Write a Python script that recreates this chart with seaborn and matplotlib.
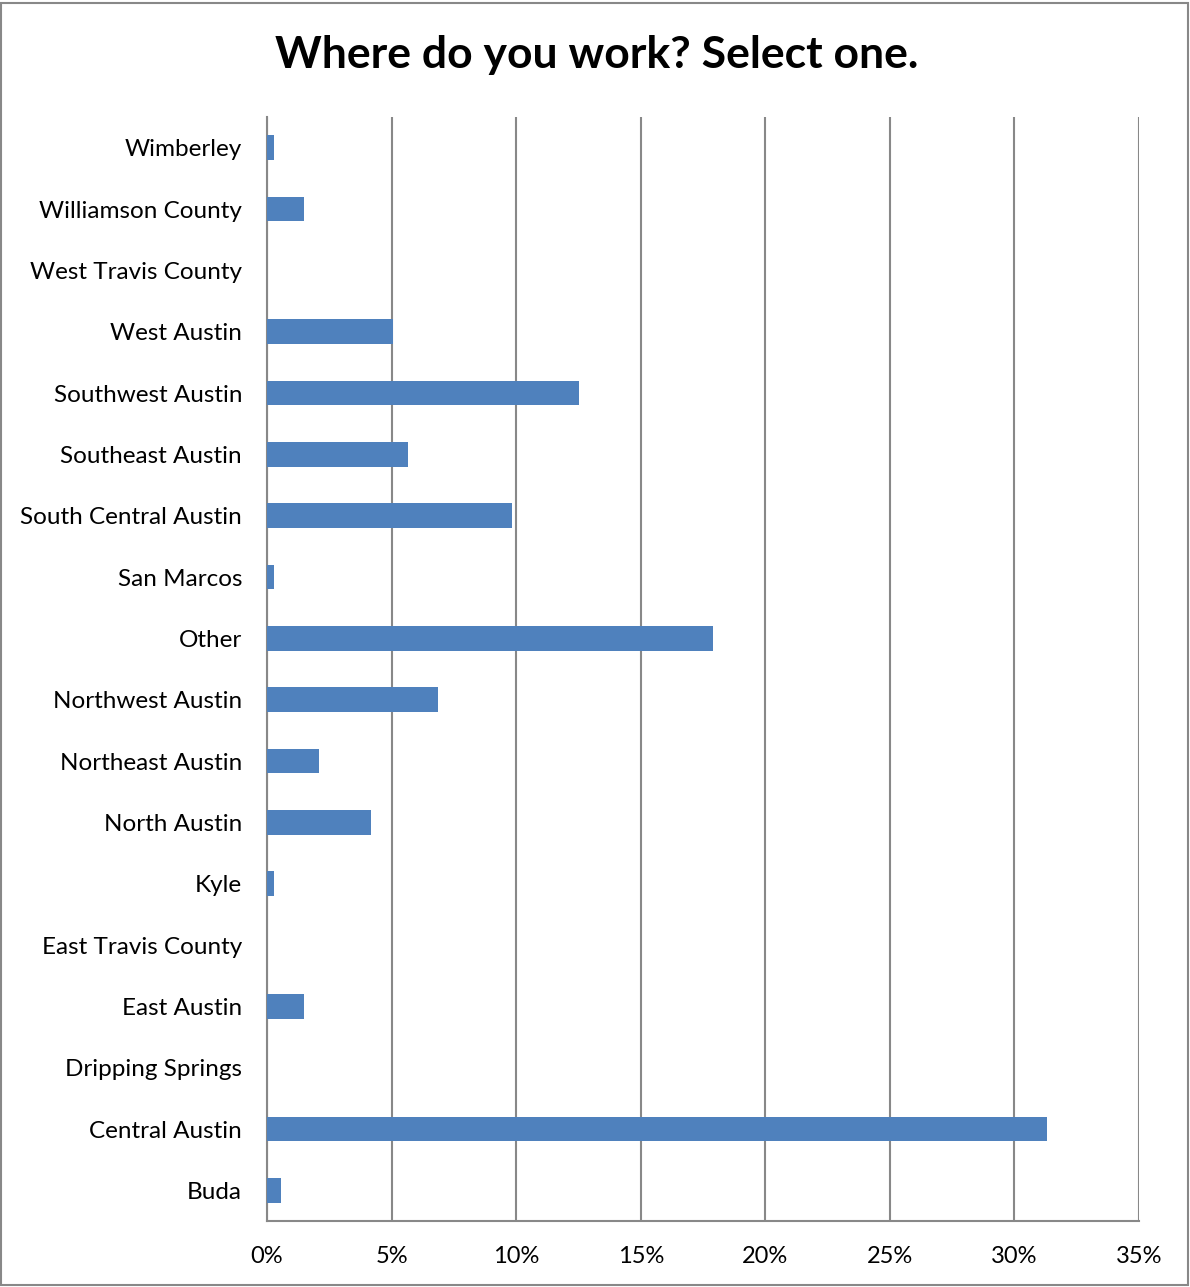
import pandas as pd
import seaborn as sns
import matplotlib.pyplot as plt
from matplotlib.patches import Rectangle
from matplotlib.ticker import PercentFormatter

# categories, top to bottom as in the chart
locations = ['Wimberley', 'Williamson County', 'West Travis County', 'West Austin',
             'Southwest Austin', 'Southeast Austin', 'South Central Austin', 'San Marcos',
             'Other', 'Northwest Austin', 'Northeast Austin', 'North Austin', 'Kyle',
             'East Travis County', 'East Austin', 'Dripping Springs', 'Central Austin', 'Buda']
# share of respondents, percent
share = [0.28, 1.49, 0.0, 5.06,
         12.52, 5.66, 9.83, 0.28,
         17.9, 6.87, 2.09, 4.18, 0.28,
         0.0, 1.49, 0.0, 31.3, 0.56]

df = pd.DataFrame({'location': locations, 'share': share})

sns.set_style('white')
plt.rcParams['font.family'] = ['Lato', 'DejaVu Sans']
plt.rcParams['text.color'] = 'black'
plt.rcParams['xtick.color'] = 'black'
plt.rcParams['ytick.color'] = 'black'

fig = plt.figure(figsize=(11.9, 12.87), dpi=100)
ax = fig.add_axes([267 / 1190, 1 - 1221 / 1287, 872 / 1190, 1104 / 1287])

sns.barplot(data=df, x='share', y='location', color='#4F81BD', width=0.4,
            saturation=1, linewidth=0, ax=ax, zorder=3)

ax.set_xlim(0, 35)
ax.set_xticks(range(0, 36, 5))
ax.xaxis.set_major_formatter(PercentFormatter(decimals=0))
ax.grid(axis='x', color='#888888', linewidth=1.5, zorder=0)
ax.set_axisbelow(True)
for side in ['top', 'right']:
    ax.spines[side].set_visible(False)
for side in ['left', 'bottom']:
    ax.spines[side].set_color('#888888')
    ax.spines[side].set_linewidth(1.5)
ax.tick_params(axis='y', length=0, pad=18, labelsize=17.5)
ax.tick_params(axis='x', length=0, pad=18, labelsize=17)
ax.set_xlabel('')
ax.set_ylabel('')

fig.text(597 / 1190, 1 - 55 / 1287, 'Where do you work? Select one.',
         ha='center', va='center', fontsize=32, fontweight='bold')

fig.patches.append(Rectangle((1 / 1190, 2 / 1287), 1187 / 1190, 1282 / 1287,
                             transform=fig.transFigure, fill=False,
                             edgecolor='#888888', linewidth=1.5))

fig.savefig('out.png', dpi=100)
